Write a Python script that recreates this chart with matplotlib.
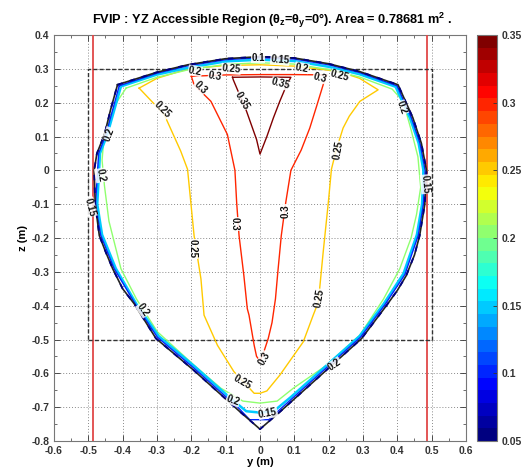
import numpy as np
import matplotlib
matplotlib.use("Agg")
import matplotlib.pyplot as plt
from matplotlib import colors as mcolors
from matplotlib import cm

plt.rcParams['font.family'] = ['Liberation Sans', 'DejaVu Sans']
plt.rcParams['font.weight'] = 'bold'
plt.rcParams['mathtext.fontset'] = 'custom'
plt.rcParams['mathtext.rm'] = 'Liberation Sans:bold'
plt.rcParams['mathtext.it'] = 'Liberation Sans:bold'
plt.rcParams['mathtext.bf'] = 'Liberation Sans:bold'

# ---------------- data ----------------
# accessible-region boundary (also the 0.05 contour)
bnd_y = [-0.415, -0.30, -0.21, -0.10, 0.0, 0.10, 0.20, 0.29, 0.402, 0.445, 0.47, 0.485,
         0.48, 0.465, 0.45, 0.426, 0.40, 0.368, 0.296, 0.194, 0.06, 0.0, -0.06, -0.194,
         -0.303, -0.366, -0.40, -0.429, -0.45, -0.468, -0.48, -0.483, -0.475, -0.453,
         -0.435, -0.415]
bnd_z = [0.253, 0.29, 0.312, 0.33, 0.336, 0.332, 0.315, 0.292, 0.253, 0.156, 0.08, 0.0,
         -0.1, -0.193, -0.25, -0.311, -0.355, -0.40, -0.497, -0.59, -0.712, -0.765, -0.712,
         -0.59, -0.497, -0.395, -0.35, -0.291, -0.24, -0.193, -0.1, 0.0, 0.05, 0.106,
         0.18, 0.253]

# 0.1 contour
c10_y = [-0.41, -0.30, -0.21, -0.10, 0.0, 0.10, 0.20, 0.29, 0.399, 0.441, 0.466, 0.481,
         0.476, 0.461, 0.422, 0.364, 0.293, 0.192, 0.06, 0.025, -0.03, -0.06, -0.192,
         -0.299, -0.362, -0.425, -0.464, -0.479, -0.470, -0.449, -0.41]
c10_z = [0.25, 0.287, 0.309, 0.327, 0.333, 0.329, 0.312, 0.289, 0.25, 0.155, 0.08, 0.0,
         -0.1, -0.192, -0.308, -0.397, -0.493, -0.585, -0.705, -0.737, -0.737, -0.705,
         -0.585, -0.493, -0.397, -0.29, -0.192, -0.1, 0.05, 0.105, 0.25]

# 0.15 contour
c15_y = [-0.405, -0.30, -0.21, -0.10, 0.0, 0.10, 0.20, 0.29, 0.395, 0.437, 0.462, 0.476,
         0.472, 0.457, 0.418, 0.36, 0.29, 0.19, 0.09, 0.04, 0.0, -0.04, -0.09, -0.19,
         -0.295, -0.36, -0.42, -0.46, -0.474, -0.466, -0.445, -0.405]
c15_z = [0.248, 0.283, 0.303, 0.322, 0.327, 0.323, 0.306, 0.284, 0.247, 0.154, 0.08, 0.0,
         -0.1, -0.19, -0.305, -0.395, -0.49, -0.58, -0.67, -0.712, -0.716, -0.712, -0.67,
         -0.58, -0.49, -0.395, -0.29, -0.19, -0.1, 0.05, 0.105, 0.248]

# 0.2 contour
c20_y = [-0.39, -0.30, -0.21, -0.10, 0.0, 0.10, 0.20, 0.29, 0.385, 0.417, 0.44, 0.46,
         0.468, 0.456, 0.44, 0.407, 0.36, 0.291, 0.194, 0.097, 0.05, 0.0, -0.05, -0.114,
         -0.192, -0.299, -0.36, -0.405, -0.44, -0.453, -0.46, -0.455, -0.435, -0.415, -0.39]
c20_z = [0.243, 0.275, 0.297, 0.313, 0.318, 0.314, 0.298, 0.276, 0.24, 0.204, 0.12, 0.04,
         -0.05, -0.13, -0.2, -0.291, -0.38, -0.487, -0.576, -0.644, -0.682, -0.688, -0.682,
         -0.644, -0.576, -0.477, -0.38, -0.291, -0.15, -0.046, 0.03, 0.09, 0.16, 0.205, 0.243]

# 0.25 contour
c25_y = [-0.352, -0.30, -0.21, -0.10, 0.0, 0.10, 0.20, 0.242, 0.29, 0.344, 0.291, 0.26,
         0.242, 0.222, 0.208, 0.199, 0.184, 0.17, 0.155, 0.126, 0.058, 0.02, 0.0, -0.017,
         -0.076, -0.124, -0.163, -0.172, -0.192, -0.211, -0.231, -0.279, -0.352]
c25_z = [0.243, 0.272, 0.300, 0.310, 0.312, 0.308, 0.296, 0.288, 0.272, 0.238, 0.204,
         0.16, 0.125, 0.06, 0.003, -0.095, -0.242, -0.389, -0.428, -0.507, -0.605, -0.652,
         -0.659, -0.659, -0.595, -0.517, -0.428, -0.321, -0.193, 0.003, 0.057, 0.165, 0.243]

# 0.3 contour
c30_y = [-0.20, -0.10, 0.0, 0.10, 0.194, 0.184, 0.165, 0.145, 0.12, 0.09, 0.075, 0.062,
         0.052, 0.045, 0.035, 0.024, 0.01, 0.0, -0.01, -0.017, -0.032, -0.037, -0.047,
         -0.061, -0.068, -0.073, -0.095, -0.143, -0.192, -0.20]
c30_z = [0.278, 0.282, 0.283, 0.283, 0.282, 0.253, 0.19, 0.125, 0.06, 0.0, -0.095, -0.193,
         -0.30, -0.38, -0.45, -0.497, -0.54, -0.563, -0.55, -0.517, -0.428, -0.409, -0.311,
         -0.193, -0.095, 0.0, 0.106, 0.204, 0.253, 0.278]

# 0.35 contour
c35_y = [-0.08, 0.0, 0.09, 0.078, 0.058, 0.039, 0.02, 0.0, -0.01, -0.039, -0.078, -0.08]
c35_z = [0.275, 0.276, 0.275, 0.253, 0.205, 0.155, 0.10, 0.048, 0.091, 0.174, 0.268, 0.275]

# contour labels: text, y, z, rotation
lab_txt = ['0.2', '0.3', '0.25', '0.3', '0.35', '0.25', '0.2', '0.2', '0.15', '0.1',
           '0.15', '0.2', '0.3', '0.25', '0.35', '0.2', '0.25', '0.15', '0.3', '0.25',
           '0.3', '0.25', '0.3', '0.25', '0.2', '0.15', '0.2', '0.2']
lab_y = [-0.189, -0.131, -0.084, -0.174, -0.052, -0.285, -0.439, -0.465, -0.494, -0.006,
         0.058, 0.122, 0.174, 0.233, 0.061, 0.413, 0.227, 0.483, -0.073, -0.195,
         0.076, 0.174, 0.012, -0.052, -0.078, 0.023, 0.218, -0.34]
lab_z = [0.294, 0.279, 0.300, 0.244, 0.206, 0.179, 0.106, -0.015, -0.109, 0.332,
         0.326, 0.303, 0.274, 0.279, 0.256, 0.185, 0.059, -0.041, -0.159, -0.232,
         -0.121, -0.379, -0.556, -0.626, -0.679, -0.718, -0.574, -0.412]
lab_rot = [-10, -10, -5, -45, -60, -45, 70, -80, -75, 0,
           -5, -10, -15, -15, -15, -70, 80, -85, -90, -90,
           90, 80, 60, -30, -20, 10, 35, -55]

# reference frame
rect_y = [-0.5, 0.5]
rect_z = [-0.5, 0.3]
red_y = [-0.485, 0.485]
cbar_ticks = [0.05, 0.1, 0.15, 0.2, 0.25, 0.3, 0.35]

# ---------------- figure ----------------
fig = plt.figure(figsize=(5.28, 4.73), dpi=100)
ax = fig.add_axes([54 / 528, 1 - 441 / 473, 412 / 528, 406 / 473])
cax = fig.add_axes([477 / 528, 1 - 441 / 473, 20 / 528, 406 / 473])

# MATLAB-style jet colormap, discretised
jet_m = mcolors.LinearSegmentedColormap.from_list(
    'jet_matlab',
    [(0.0, (0, 0, 0.5)), (0.125, (0, 0, 1)), (0.375, (0, 1, 1)),
     (0.625, (1, 1, 0)), (0.875, (1, 0, 0)), (1.0, (0.5, 0, 0))], N=32)
cmap = jet_m
norm = mcolors.Normalize(vmin=0.05, vmax=0.35)

ax.set_xlim(-0.6, 0.6)
ax.set_ylim(-0.8, 0.4)
ax.set_xticks(np.round(np.arange(-0.6, 0.61, 0.1), 2))
ax.set_yticks(np.round(np.arange(-0.8, 0.41, 0.1), 2))
ax.set_xticklabels(['-0.6', '-0.5', '-0.4', '-0.3', '-0.2', '-0.1', '0', '0.1', '0.2',
                    '0.3', '0.4', '0.5', '0.6'])
ax.set_yticklabels(['-0.8', '-0.7', '-0.6', '-0.5', '-0.4', '-0.3', '-0.2', '-0.1', '0',
                    '0.1', '0.2', '0.3', '0.4'])
ax.set_xticks(np.arange(-0.55, 0.6, 0.1), minor=True)
ax.set_yticks(np.arange(-0.75, 0.4, 0.1), minor=True)
ax.tick_params(which='both', direction='in', top=True, right=True, labelsize=7.5,
               colors='#333333')
ax.tick_params(which='major', length=4, width=0.6)
ax.tick_params(which='minor', length=2, width=0.5)
for lab in ax.get_xticklabels() + ax.get_yticklabels():
    lab.set_fontweight('bold')
    lab.set_color('#333333')
ax.grid(True, which='major', linestyle=(0, (1, 2)), color='#8a8a8a', linewidth=0.7)
for s in ax.spines.values():
    s.set_color('#777777')
    s.set_linewidth(0.8)

# red vertical limits
for yv in red_y:
    ax.axvline(yv, color='#e04848', linewidth=1.3, zorder=3)
# dashed rectangle
ax.plot([rect_y[0], rect_y[1], rect_y[1], rect_y[0], rect_y[0]],
        [rect_z[0], rect_z[0], rect_z[1], rect_z[1], rect_z[0]],
        color='#333333', linestyle=(0, (3, 1.5)), linewidth=1.0, zorder=3)

# contours
ax.plot(c35_y, c35_z, color=cmap(norm(0.35)), linewidth=1.0, zorder=4)
ax.plot(c30_y, c30_z, color=cmap(norm(0.3)), linewidth=1.0, zorder=4)
ax.plot(c25_y, c25_z, color=cmap(norm(0.25)), linewidth=1.0, zorder=4)
ax.plot(c20_y, c20_z, color=cmap(norm(0.2)), linewidth=1.0, zorder=4)
ax.plot(c15_y, c15_z, color=cmap(norm(0.15)), linewidth=1.8, zorder=4)
ax.plot(c10_y, c10_z, color=cmap(norm(0.1)), linewidth=1.0, zorder=4)
ax.plot(bnd_y, bnd_z, color='#222222', linewidth=1.2, zorder=5)
ax.plot(bnd_y, bnd_z, color=cmap(norm(0.05)), linewidth=1.3, linestyle=(0, (3, 4)),
        zorder=5)

for t, yy, zz, r in zip(lab_txt, lab_y, lab_z, lab_rot):
    ax.text(yy, zz, t, rotation=r, ha='center', va='center', fontsize=7,
            fontweight='bold', color='#111111', zorder=6, rotation_mode='anchor',
            bbox=dict(facecolor='white', edgecolor='none', pad=0.2, alpha=0.85))

ax.set_xlabel('y (m)', fontsize=8, fontweight='bold', labelpad=1)
ax.set_ylabel('z (m)', fontsize=8, fontweight='bold', labelpad=2)
ax.set_title(r'FVIP : YZ Accessible Region ($\theta_z$=$\theta_y$=0°). Area = 0.78681 m$^2$ .',
             fontsize=9.2, fontweight='bold', pad=8, x=0.53)

sm = cm.ScalarMappable(norm=norm, cmap=cmap)
cb = fig.colorbar(sm, cax=cax, ticks=cbar_ticks)
cb.ax.set_yticklabels(['0.05', '0.1', '0.15', '0.2', '0.25', '0.3', '0.35'])
cb.ax.tick_params(labelsize=7.5, direction='in', length=3, width=0.6, colors='#333333')
for lab in cb.ax.get_yticklabels():
    lab.set_fontweight('bold')
cb.outline.set_edgecolor('#777777')
cb.outline.set_linewidth(0.8)

fig.savefig('out.png', dpi=100)
